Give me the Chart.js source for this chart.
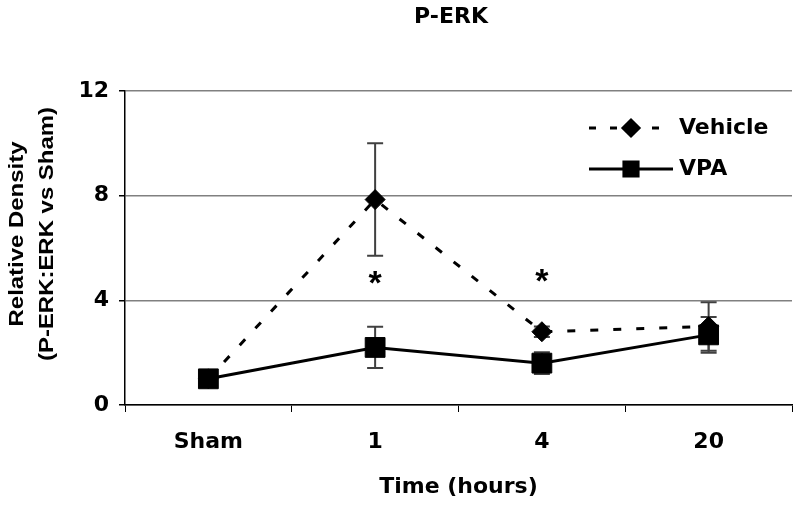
<!DOCTYPE html>
<html>
<head>
<meta charset="utf-8">
<script src="https://cdn.jsdelivr.net/npm/chart.js@4"></script>
<style>
  html, body { margin: 0; padding: 0; background: #fff; }
  #wrap { width: 800px; height: 507px; }
</style>
</head>
<body>
<div id="wrap"><canvas id="perkChart" width="800" height="507"></canvas></div>
<script>
// Chart data
const categories = ['Sham', '1', '4', '20'];
const vehicleValues = [1.0, 7.85, 2.8, 3.0];
const vehicleErrors = [0, 2.15, 0.2, 0.93];
const vpaValues = [1.0, 2.2, 1.6, 2.68];
const vpaErrors = [0, 0.79, 0.42, 0.68];
// significance markers (value where the asterisk sits)
const asteriskValues = [null, 4.9, 5.0, null];
const yTicks = [0, 4, 8, 12];

// wide bold face to match the stretched lettering of the figure
const FONT = '"DejaVu Sans", sans-serif';
const ARIAL = '"Liberation Sans", Arial, sans-serif';

// error bars, drawn behind the markers from the dataset values
const errorBars = {
    id: 'errorBars',
    beforeDatasetsDraw(chart) {
        const { ctx, scales: { x, y } } = chart;
        ctx.save();
        ctx.strokeStyle = '#404040';
        ctx.lineWidth = 2;
        chart.data.datasets.forEach(ds => {
            if (!ds.errors) return;
            ds.data.forEach((v, i) => {
                const e = ds.errors[i];
                if (v == null || !e) return;
                const px = x.getPixelForValue(i);
                const top = y.getPixelForValue(v + e);
                const bot = y.getPixelForValue(v - e);
                ctx.beginPath();
                ctx.moveTo(px, top); ctx.lineTo(px, bot);
                ctx.moveTo(px - 8, top); ctx.lineTo(px + 8, top);
                ctx.moveTo(px - 8, bot); ctx.lineTo(px + 8, bot);
                ctx.stroke();
            });
        });
        ctx.restore();
    }
};

// titles, asterisks and legend
const decorations = {
    id: 'decorations',
    afterDraw(chart) {
        const { ctx, chartArea: a, scales: { x, y } } = chart;
        ctx.save();
        ctx.fillStyle = '#000';
        ctx.textAlign = 'center';
        ctx.textBaseline = 'middle';

        ctx.font = 'bold 22px ' + FONT;
        ctx.fillText('P-ERK', 451, 17);
        ctx.fillText('Time (hours)', (a.left + a.right) / 2, 487);

        // y title: Arial stretched along the text direction
        ctx.save();
        ctx.font = 'bold 21px ' + ARIAL;
        ctx.translate(17, 234);
        ctx.rotate(-Math.PI / 2);
        ctx.scale(1.14, 1);
        ctx.fillText('Relative Density', 0, 0);
        ctx.fillText('(P-ERK:ERK vs Sham)', 0, 30);
        ctx.restore();

        // asterisks
        ctx.font = 'bold 34px ' + ARIAL;
        asteriskValues.forEach((v, i) => {
            if (v == null) return;
            ctx.fillText('*', x.getPixelForValue(i), y.getPixelForValue(v) + 8);
        });

        // legend
        const lx0 = 589, lx1 = 673;
        const rows = [
            { label: 'Vehicle', y: 128, dash: [7, 14], ds: 0, r: 8 },
            { label: 'VPA', y: 169, dash: [], ds: 1, r: 10 }
        ];
        rows.forEach(r => {
            const ds = chart.data.datasets[r.ds];
            ctx.beginPath();
            ctx.setLineDash(r.dash);
            ctx.lineWidth = 3;
            ctx.strokeStyle = '#000';
            ctx.moveTo(lx0, r.y); ctx.lineTo(lx1, r.y);
            ctx.stroke();
            ctx.setLineDash([]);
            Chart.helpers.drawPoint(ctx, {
                pointStyle: ds.pointStyle, radius: r.r, borderWidth: 1, rotation: 0
            }, (lx0 + lx1) / 2, r.y);
            ctx.textAlign = 'left';
            ctx.font = 'bold 22px ' + FONT;
            ctx.fillText(r.label, 679, r.y);
        });
        ctx.restore();
    }
};

new Chart(document.getElementById('perkChart'), {
    type: 'line',
    data: {
        labels: categories,
        datasets: [
            {
                label: 'Vehicle',
                data: vehicleValues,
                errors: vehicleErrors,
                borderColor: '#000',
                backgroundColor: '#000',
                borderWidth: 3,
                borderDash: [8, 15],
                pointStyle: 'rectRot',
                pointRadius: 10,
                pointBorderWidth: 1,
                tension: 0
            },
            {
                label: 'VPA',
                data: vpaValues,
                errors: vpaErrors,
                borderColor: '#000',
                backgroundColor: '#000',
                borderWidth: 3,
                pointStyle: 'rect',
                pointRadius: 14,
                pointBorderWidth: 1,
                tension: 0
            }
        ]
    },
    options: {
        responsive: false,
        animation: false,
        layout: { autoPadding: false, padding: { top: 91, right: 8, left: 0, bottom: 0 } },
        plugins: {
            legend: { display: false },
            tooltip: { enabled: false }
        },
        scales: {
            x: {
                offset: true,
                border: { color: '#000', width: 1.5 },
                grid: { offset: true, drawOnChartArea: false, tickLength: 7, color: '#000' },
                ticks: { color: '#000', padding: 17, font: { family: FONT, size: 22, weight: 'bold' } },
                afterFit: s => { s.height = 102; }
            },
            y: {
                min: 0,
                max: 12,
                afterBuildTicks: s => { s.ticks = yTicks.map(v => ({ value: v })); },
                border: { color: '#000', width: 1.5 },
                grid: { color: '#808080', lineWidth: 1.5, tickColor: '#000', tickLength: 6 },
                ticks: { color: '#000', padding: 10, font: { family: FONT, size: 22, weight: 'bold' } },
                afterFit: s => { s.width = 125; }
            }
        }
    },
    plugins: [errorBars, decorations]
});
</script>
</body>
</html>
